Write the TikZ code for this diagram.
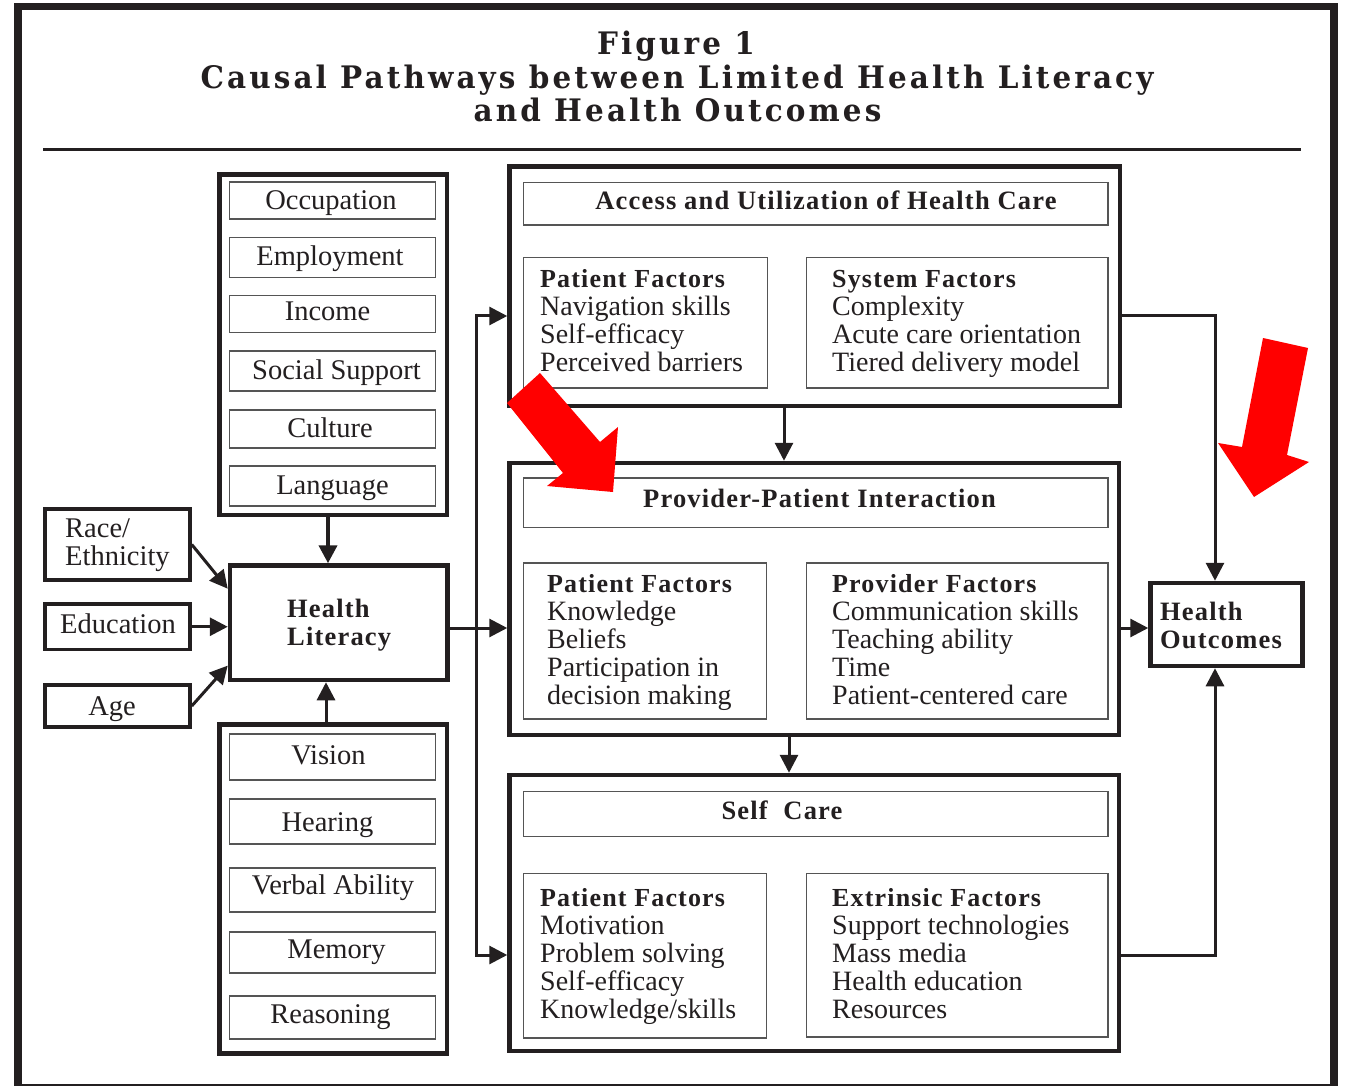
\documentclass[tikz,border=0pt]{standalone}
\usepackage{fontspec}
\setmainfont{Liberation Serif}
\newfontfamily\hdfont{Liberation Serif}[LetterSpace=4.5]
\newfontfamily\ttlfont{DejaVu Serif}[FakeStretch=0.95,LetterSpace=10.0]
\usetikzlibrary{arrows.meta,fit,calc}
\definecolor{ink}{HTML}{231F20}
\definecolor{greyline}{HTML}{555555}
\definecolor{redarr}{HTML}{FF0000}
\newcommand{\bstrut}{\rule{0pt}{20pt}}
\begin{document}
\begin{tikzpicture}[x=1pt,y=-1pt,
  bigbox/.style={draw=ink, line width=4.5pt, inner sep=0pt},
  smallbox/.style={draw=ink, line width=3.5pt, inner sep=0pt},
  thinbox/.style={draw=greyline, line width=1.5pt, inner sep=0pt},
  lab/.style={font=\fontsize{28.5}{30}\selectfont, text=ink, inner sep=0pt, anchor=base},
  body/.style={font=\fontsize{28}{28}\selectfont, text=ink, align=left, anchor=north west, inner sep=0pt},
  hd/.style={font=\hdfont\bfseries\fontsize{26.5}{28}\selectfont, text=ink, inner sep=0pt},
  ttl/.style={font=\ttlfont\bfseries\fontsize{31}{33}\selectfont, text=ink, inner sep=0pt, anchor=base},
  conn/.style={draw=ink, line width=3pt, -{Triangle[length=18pt,width=18pt]}},
]
\fill[white] (0,0) rectangle (1345,1086);
\useasboundingbox (0,0) rectangle (1345,1086);
% frame and title
\draw[ink, line width=7.5pt] (18,6.5) rectangle (1334,1088);
\node[ttl] (t1) at (676,55) {Figure 1};
\node[ttl] (t2) at (677,88.5) {Causal Pathways between Limited Health Literacy};
\node[ttl] (t3) at (677.5,121.5) {and Health Outcomes};
\draw[ink, line width=3pt] (43,150) -- (1301,150);

% left top column
\node[bigbox, fit={(219.5,174.5) (447,515)}] (leftTop) {};
\node[thinbox, fit={(229.5,182) (435.5,219)}] (occ) {};
\node[lab] (occt) at (331,210) {Occupation};
\node[thinbox, fit={(229.5,237.5) (435.5,277.5)}] (emp) {};
\node[lab] (empt) at (330,266) {Employment};
\node[thinbox, fit={(229.5,295.5) (435.5,332.5)}] (inc) {};
\node[lab] (inct) at (327.5,320) {Income};
\node[thinbox, fit={(229.5,351) (435.5,391)}] (soc) {};
\node[lab] (soct) at (336.5,379) {Social Support};
\node[thinbox, fit={(229.5,410) (435.5,448)}] (cul) {};
\node[lab] (cult) at (330,437) {Culture};
\node[thinbox, fit={(229.5,466) (435.5,506)}] (lan) {};
\node[lab] (lant) at (332.5,494) {Language};

% left bottom column
\node[bigbox, fit={(219.5,724.5) (447,1053.5)}] (leftBot) {};
\node[thinbox, fit={(229.5,734) (435.5,780)}] (vis) {};
\node[lab] (vist) at (328.5,764) {Vision};
\node[thinbox, fit={(229.5,799) (435.5,844)}] (hear) {};
\node[lab] (heart) at (327.5,831) {Hearing};
\node[thinbox, fit={(229.5,868) (435.5,912)}] (verb) {};
\node[lab] (verbt) at (333,894) {Verbal Ability};
\node[thinbox, fit={(229.5,932) (435.5,973)}] (mem) {};
\node[lab] (memt) at (336.5,958) {Memory};
\node[thinbox, fit={(229.5,996) (435.5,1039)}] (reas) {};
\node[lab] (reast) at (330.5,1023) {Reasoning};

% health literacy and side factors
\node[bigbox, fit={(230,565.5) (447.5,680)}] (hl) {};
\node[hd, align=left, anchor=north west] (hlt) at (287,597) {\bstrut Health\\Literacy};
\node[smallbox, fit={(45,509) (190,580)}] (race) {};
\node[body, font=\fontsize{28.5}{28}\selectfont] (racet) at (65,517) {\bstrut Race/\\Ethnicity};
\node[smallbox, fit={(45,604) (190,649.5)}] (edu) {};
\node[lab] (edut) at (118,633) {Education};
\node[smallbox, fit={(45,685) (190,727)}] (age) {};
\node[lab] (aget) at (112,715) {Age};

% access
\node[bigbox, fit={(509.5,166.5) (1120,406)}] (access) {};
\node[thinbox, fit={(523.5,182.5) (1108,225)}] (acchd) {};
\node[hd, anchor=base] (acchdt) at (826,210) {Access and Utilization of Health Care};
\node[thinbox, fit={(523.5,257.5) (767.5,388)}] (apf) {};
\node[body] (apft) at (540,267) {\bstrut{\hdfont\bfseries\fontsize{26}{28}\selectfont Patient Factors}\\Navigation skills\\Self-efficacy\\Perceived barriers};
\node[thinbox, fit={(806.5,257.5) (1108,388)}] (asf) {};
\node[body] (asft) at (832,267) {\bstrut{\hdfont\bfseries\fontsize{26}{28}\selectfont System Factors}\\Complexity\\Acute care orientation\\Tiered delivery model};

% provider
\node[bigbox, fit={(509.5,463) (1119,735)}] (provider) {};
\node[thinbox, fit={(523.5,478) (1108,527.5)}] (prohd) {};
\node[hd, anchor=base] (prohdt) at (819.5,507) {Provider-Patient Interaction};
\node[thinbox, fit={(523.5,563) (766.5,719)}] (ppf) {};
\node[body] (ppft) at (547,572) {\bstrut{\hdfont\bfseries\fontsize{26}{28}\selectfont Patient Factors}\\Knowledge\\Beliefs\\Participation in\\decision making};
\node[thinbox, fit={(806.5,563) (1108,719)}] (pvf) {};
\node[body] (pvft) at (832,572) {\bstrut{\hdfont\bfseries\fontsize{26}{28}\selectfont Provider Factors}\\Communication skills\\Teaching ability\\Time\\Patient-centered care};

% self care
\node[bigbox, fit={(509.5,775) (1119,1051)}] (selfcare) {};
\node[thinbox, fit={(523.5,791.5) (1108,836.5)}] (schd) {};
\node[hd, anchor=base] (schdt) at (782,819) {Self\ \ Care};
\node[thinbox, fit={(523.5,873.5) (766.5,1038)}] (spf) {};
\node[body] (spft) at (540,886) {\bstrut{\hdfont\bfseries\fontsize{26}{28}\selectfont Patient Factors}\\Motivation\\Problem solving\\Self-efficacy\\Knowledge/skills};
\node[thinbox, fit={(806.5,873.5) (1108,1037)}] (sef) {};
\node[body] (seft) at (832,886) {\bstrut{\hdfont\bfseries\fontsize{26}{28}\selectfont Extrinsic Factors}\\Support technologies\\Mass media\\Health education\\Resources};

% health outcomes
\node[bigbox, fit={(1150.5,583) (1302.5,666)}] (ho) {};
\node[hd, align=left, anchor=north west] (hot) at (1160,600) {\bstrut Health\\Outcomes};

% connectors
\coordinate (xa) at (328,0);
\coordinate (xb) at (326,0);
\coordinate (xc) at (784,0);
\coordinate (xd) at (789,0);
\coordinate (trtop) at (476,316);
\coordinate (trmid) at (476,628);
\coordinate (trbot) at (476,955);
\draw[conn] (race.east) -- ($(hl.north west)!0.214!(hl.south west)$);
\draw[conn] (edu.east) -- (edu.east -| hl.west);
\draw[conn] (age.east) -- ($(hl.north west)!0.86!(hl.south west)$);
\draw[conn, line width=4pt] (leftTop.south -| xa) -- (hl.north -| xa);
\draw[conn] (leftBot.north -| xb) -- (hl.south -| xb);
\draw[conn] (hl.east |- trmid) -- (provider.west |- trmid);
\draw[conn, {Triangle[length=18pt,width=18pt]}-{Triangle[length=18pt,width=18pt]}] (access.west |- trtop) -- (trtop) -- (trbot) -- (selfcare.west |- trbot);
\draw[conn] (access.south -| xc) -- (provider.north -| xc);
\draw[conn] (provider.south -| xd) -- (selfcare.north -| xd);
\draw[conn] (access.east |- trtop) -| ([xshift=-11.5pt]ho.north);
\draw[conn] (provider.east |- trmid) -- (ho.west |- trmid);
\draw[conn] (selfcare.east |- trbot) -| ([xshift=-11.5pt]ho.south);

% red arrows
\fill[redarr] (507,403) -- (540,373) -- (600,442) -- (618,427) -- (613,492) -- (547,486) -- (563,473) -- cycle;
\fill[redarr] (1263,338) -- (1308,348) -- (1287,455) -- (1309,462) -- (1254,497) -- (1218,443) -- (1242,447) -- cycle;
\end{tikzpicture}
\end{document}
